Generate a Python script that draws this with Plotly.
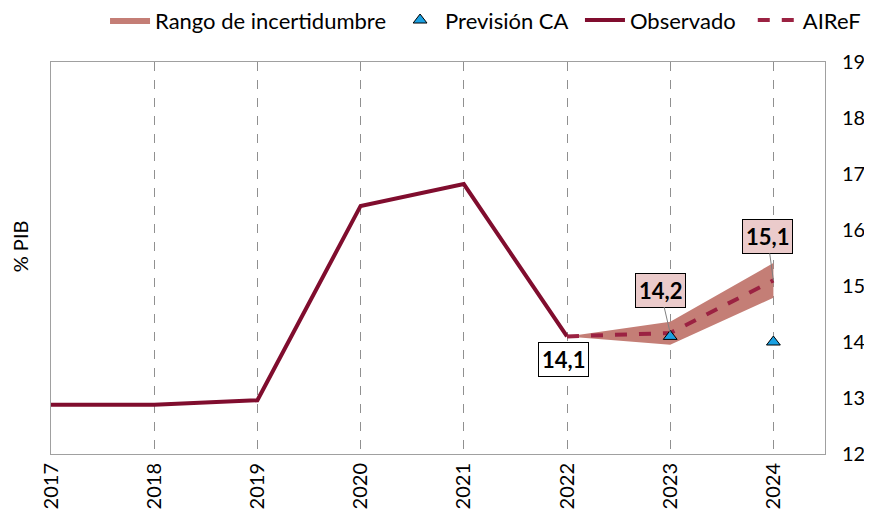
import plotly.graph_objects as go

years = [2017, 2018, 2019, 2020, 2021, 2022]
observado = [12.88, 12.88, 12.96, 16.43, 16.82, 14.1]

airef_years = [2022, 2023, 2024]
airef = [14.1, 14.16, 15.1]
band_lower = [14.1, 13.95, 14.79]
band_upper = [14.1, 14.36, 15.41]

prev_years = [2023, 2024]
prevision_ca = [14.1, 14.0]

tick_years = [2017, 2018, 2019, 2020, 2021, 2022, 2023, 2024]
y_ticks = [12, 13, 14, 15, 16, 17, 18, 19]

FONT = "Lato"
fig = go.Figure()

fig.add_trace(go.Scatter(
    x=airef_years + airef_years[::-1], y=band_upper + band_lower[::-1],
    fill="toself", fillcolor="#C47E76", line=dict(width=0, color="#C47E76"),
    mode="lines", name="Rango de incertidumbre", hoverinfo="skip", legend="legend"))
fig.add_trace(go.Scatter(
    x=years, y=observado, mode="lines", name="Observado",
    line=dict(color="#800D2E", width=4), legend="legend3"))
fig.add_trace(go.Scatter(
    x=airef_years, y=airef, mode="lines", name="AIReF",
    line=dict(color="#9B2242", width=4, dash="dash"), legend="legend4"))
fig.add_trace(go.Scatter(
    x=prev_years, y=prevision_ca, mode="markers", name="Previsión CA",
    marker=dict(symbol="triangle-up", size=12, color="#1BA1E2",
                line=dict(color="black", width=1)), legend="legend2"))

ann_style = dict(font=dict(family=FONT, size=22, color="black", weight="bold"),
                 bordercolor="black", borderwidth=1, borderpad=3,
                 arrowcolor="#808080", arrowwidth=1, arrowhead=0, showarrow=True)
fig.add_annotation(x=2022, y=observado[-1], text="14,1", ax=-4, ay=23,
                   bgcolor="white", **{**ann_style, "arrowcolor": "rgba(0,0,0,0)"})
fig.add_annotation(x=2023, y=airef[1], text="14,2", ax=-10, ay=-43,
                   bgcolor="#EBCBCB", **ann_style)
fig.add_annotation(x=2024, y=airef[2], text="15,1", ax=-6, ay=-44,
                   bgcolor="#EBCBCB", **ann_style)

leg_common = dict(orientation="h", xref="container", yref="container",
                  xanchor="left", yanchor="middle", y=0.976,
                  font=dict(size=22, family=FONT), itemwidth=40,
                  bgcolor="rgba(0,0,0,0)")
fig.update_layout(
    width=864, height=509,
    margin=dict(l=43, r=47, t=54, b=63, autoexpand=False),
    plot_bgcolor="white", paper_bgcolor="white",
    font=dict(family=FONT, size=20, color="black"),
    legend=dict(x=0.1123, **leg_common),
    legend2=dict(x=0.448, **leg_common),
    legend3=dict(x=0.662, **leg_common),
    legend4=dict(x=0.862, **leg_common),
    showlegend=True,
)
fig.update_xaxes(
    range=[2017, 2024.5], tickvals=tick_years, ticktext=[str(t) for t in tick_years],
    tickangle=-90, showgrid=True, gridcolor="#909090", griddash="dash", gridwidth=1,
    showline=True, linecolor="#A0A0A0", linewidth=1, mirror=True, zeroline=False,
    tickfont=dict(size=20), ticks="", automargin=False)
fig.update_yaxes(
    range=[12, 19], tickvals=y_ticks, side="right", showgrid=False,
    showline=True, linecolor="#A0A0A0", linewidth=1, mirror=True, zeroline=False,
    tickfont=dict(size=20), ticks="", ticklabelstandoff=12, automargin=False)
fig.add_annotation(text="% PIB", xref="paper", yref="paper", x=-0.04, y=0.53,
                   xanchor="center", textangle=-90, showarrow=False,
                   font=dict(size=20, family=FONT))

fig.write_html("out.html")
